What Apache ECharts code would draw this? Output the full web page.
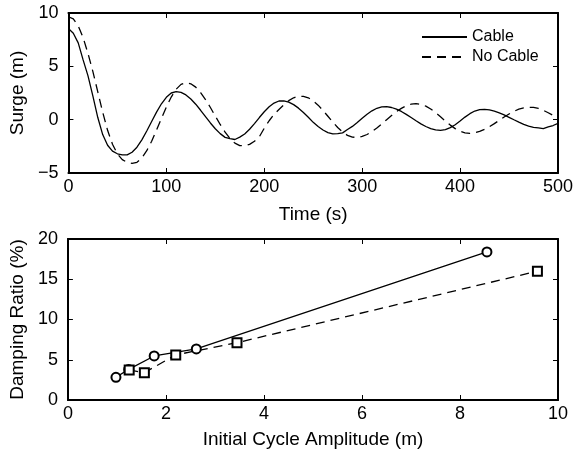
<!DOCTYPE html>
<html>
<head>
<meta charset="utf-8">
<script src="https://cdn.jsdelivr.net/npm/echarts@6/dist/echarts.min.js"></script>
<style>
  html, body { margin: 0; padding: 0; background: #fff; }
  #chart { width: 580px; height: 457px; }
</style>
</head>
<body>
<div id="chart"></div>
<script>
// Surge time histories, sampled every 5 s from 0 to 500 s
const sampleStep = 5;
const surgeCable = [
  8.55, 8.1, 7.2, 5.6, 4.1, 2.2, 0.2, -1.4, -2.4, -2.95,
  -3.2, -3.3, -3.3, -3.05, -2.58, -1.89, -1.06, -0.17, 0.71, 1.49,
  2.10, 2.50, 2.63, 2.56, 2.32, 1.94, 1.45, 0.88, 0.28, -0.31,
  -0.85, -1.31, -1.66, -1.78, -1.86, -1.64, -1.35, -0.90, -0.37, 0.20,
  0.74, 1.21, 1.56, 1.75, 1.77, 1.65, 1.41, 1.08, 0.67, 0.22,
  -0.25, -0.64, -0.97, -1.21, -1.33, -1.30, -1.24, -0.92, -0.63, -0.26,
  0.14, 0.51, 0.83, 1.07, 1.20, 1.22, 1.14, 0.99, 0.77, 0.50,
  0.20, -0.10, -0.39, -0.64, -0.84, -0.96, -1.00, -0.94, -0.75, -0.47,
  -0.12, 0.24, 0.56, 0.81, 0.95, 0.965, 0.91, 0.80, 0.64, 0.45,
  0.22, -0.01, -0.23, -0.44, -0.60, -0.72, -0.77, -0.83, -0.68, -0.55,
  -0.34
];
const surgeNoCable = [
  9.65, 9.45, 8.8, 7.7, 6.2, 4.5, 2.6, 0.7, -1.0, -2.3,
  -3.2, -3.75, -4.0, -4.1, -4.0, -3.59, -2.91, -2.02, -0.97, 0.12,
  1.18, 2.12, 2.85, 3.31, 3.47, 3.36, 3.05, 2.54, 1.89, 1.14,
  0.34, -0.45, -1.17, -1.77, -2.20, -2.43, -2.46, -2.32, -2.02, -1.60,
  -0.80, -0.10, 0.50, 0.95, 1.40, 1.78, 2.05, 2.19, 2.19, 2.05,
  1.76, 1.36, 0.86, 0.32, -0.23, -0.73, -1.16, -1.47, -1.64, -1.66,
  -1.57, -1.39, -1.12, -0.78, -0.40, 0.00, 0.39, 0.75, 1.06, 1.30,
  1.45, 1.50, 1.44, 1.27, 1.00, 0.66, 0.27, -0.13, -0.51, -0.84,
  -1.09, -1.24, -1.28, -1.22, -1.10, -0.90, -0.65, -0.37, -0.06, 0.25,
  0.53, 0.78, 0.98, 1.10, 1.16, 1.15, 1.05, 0.88, 0.65, 0.40,
  0.13
];

// Damping ratio against initial cycle amplitude
const cableAmplitude = [0.98, 1.24, 1.76, 2.62, 8.55];
const cableDamping = [2.82, 3.80, 5.47, 6.34, 18.4];
const noCableAmplitude = [1.25, 1.56, 2.20, 3.45, 9.58];
const noCableDamping = [3.73, 3.40, 5.60, 7.12, 16.0];

// Axis ticks
const timeTicks = [0, 100, 200, 300, 400, 500];
const surgeTicks = [-5, 0, 5, 10];
const amplitudeTicks = [0, 2, 4, 6, 8, 10];
const dampingTicks = [0, 5, 10, 15, 20];

const seriesNames = ['Cable', 'No Cable'];

const FONT = 'Liberation Sans, Arial, Helvetica, sans-serif';
const INK = '#000';
const DASH = [9, 6];

function pairs(xs, ys) { return ys.map((y, i) => [xs[i], y]); }
function timed(ys) { return ys.map((y, i) => [i * sampleStep, y]); }
function minus(v) { return String(v).replace('-', '\u2212'); }

function axisFrom(ticks, extra) {
  return Object.assign({
    type: 'value',
    min: ticks[0],
    max: ticks[ticks.length - 1],
    interval: ticks[1] - ticks[0],
    axisLine: { show: true, onZero: false, lineStyle: { color: INK, width: 2 } },
    axisTick: { show: true, inside: true, length: 5, lineStyle: { color: INK, width: 1 } },
    splitLine: { show: false },
    axisLabel: { show: true, color: INK, fontFamily: FONT, fontSize: 18, formatter: minus },
    nameTextStyle: { color: INK, fontFamily: FONT, fontSize: 19 }
  }, extra || {});
}
function mirror(ticks, position, gridIndex) {
  return axisFrom(ticks, { position: position, gridIndex: gridIndex, axisLabel: { show: false } });
}
function labels(margin) {
  return { color: INK, fontFamily: FONT, fontSize: 18, margin: margin, formatter: minus };
}

const chart = echarts.init(document.getElementById('chart'), null, { renderer: 'canvas' });

chart.setOption({
  animation: false,
  backgroundColor: '#fff',
  grid: [
    { left: 65, top: 13, width: 493, height: 160 },
    { left: 65, top: 239, width: 493, height: 161 }
  ],
  legend: {
    data: seriesNames,
    orient: 'vertical',
    left: 421,
    top: 29,
    padding: 0,
    itemWidth: 45,
    itemHeight: 14,
    itemGap: 4,
    itemStyle: { opacity: 0 },
    textStyle: { color: INK, fontFamily: FONT, fontSize: 16 }
  },
  xAxis: [
    axisFrom(timeTicks, { gridIndex: 0, position: 'bottom', name: 'Time (s)', nameLocation: 'middle', nameGap: 32, axisLabel: labels(5) }),
    mirror(timeTicks, 'top', 0),
    axisFrom(amplitudeTicks, { gridIndex: 1, position: 'bottom', name: 'Initial Cycle Amplitude (m)', nameLocation: 'middle', nameGap: 30, axisLabel: labels(5) }),
    mirror(amplitudeTicks, 'top', 1)
  ],
  yAxis: [
    axisFrom(surgeTicks, { gridIndex: 0, position: 'left', name: 'Surge (m)', nameLocation: 'middle', nameGap: 33, axisLabel: labels(10) }),
    mirror(surgeTicks, 'right', 0),
    axisFrom(dampingTicks, { gridIndex: 1, position: 'left', name: 'Damping Ratio (%)', nameLocation: 'middle', nameGap: 33, axisLabel: labels(10) }),
    mirror(dampingTicks, 'right', 1)
  ],
  series: [
    {
      name: seriesNames[0], type: 'line', xAxisIndex: 0, yAxisIndex: 0,
      data: timed(surgeCable), symbol: 'none', showSymbol: false,
      lineStyle: { color: INK, width: 1.3, type: 'solid' },
      itemStyle: { color: INK }
    },
    {
      name: seriesNames[1], type: 'line', xAxisIndex: 0, yAxisIndex: 0,
      data: timed(surgeNoCable), symbol: 'none', showSymbol: false,
      lineStyle: { color: INK, width: 1.3, type: DASH },
      itemStyle: { color: INK }
    },
    {
      name: 'Cable damping', type: 'line', xAxisIndex: 2, yAxisIndex: 2,
      data: pairs(cableAmplitude, cableDamping),
      symbol: 'emptyCircle', symbolSize: 9,
      lineStyle: { color: INK, width: 1.3, type: 'solid' },
      itemStyle: { color: INK, borderColor: INK, borderWidth: 1.2 }
    },
    {
      name: 'No cable damping', type: 'line', xAxisIndex: 2, yAxisIndex: 2,
      data: pairs(noCableAmplitude, noCableDamping),
      symbol: 'emptyRect', symbolSize: 9,
      lineStyle: { color: INK, width: 1.3, type: DASH },
      itemStyle: { color: INK, borderColor: INK, borderWidth: 1.2 }
    }
  ]
});
</script>
</body>
</html>
